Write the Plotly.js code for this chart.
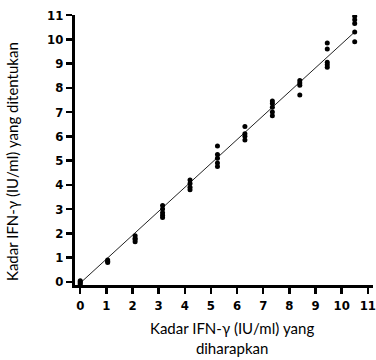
<!DOCTYPE html>
<html><head><meta charset="utf-8">
<script src="https://cdn.plot.ly/plotly-3.0.1.min.js"></script>
<style>html,body{margin:0;padding:0;background:#fff}#c{width:376px;height:360px}</style>
</head><body><div id="c"></div>
<script>
const expected = [0, 1.05, 2.1, 3.15, 4.2, 5.25, 6.3, 7.35, 8.4, 9.45, 10.5];
const measured = [
  [0, -0.05, 0.05, -0.1],
  [0.8, 0.85, 0.9],
  [1.65, 1.75, 1.8, 1.9],
  [2.65, 2.75, 2.85, 3.0, 3.15],
  [3.8, 3.9, 4.05, 4.2],
  [4.75, 4.9, 5.1, 5.25, 5.6],
  [5.85, 6.0, 6.1, 6.4],
  [6.85, 7.0, 7.2, 7.35, 7.45],
  [7.7, 8.1, 8.2, 8.3],
  [8.85, 8.95, 9.05, 9.6, 9.85],
  [9.9, 10.3, 10.65, 10.8, 10.95]
];
const fitX = [0, 10.5];
const fitY = [-0.05, 10.3];
const tickVals = [0,1,2,3,4,5,6,7,8,9,10,11];
const xTitle = 'Kadar IFN-γ (IU/ml) yang<br>diharapkan';
const yTitle = 'Kadar IFN-γ (IU/ml) yang ditentukan';

const px = [], py = [];
expected.forEach((x, i) => measured[i].forEach(y => { px.push(x); py.push(y); }));

const font = "Lato, 'DejaVu Sans', sans-serif";
const tfont = "'DejaVu Sans Condensed', 'DejaVu Sans', sans-serif";
const data = [
  {x: fitX, y: fitY, mode: 'lines', line: {color: '#222', width: 1}, hoverinfo: 'skip'},
  {x: px, y: py, mode: 'markers', marker: {color: '#000', size: 5}}
];
const axisCommon = {
  tickvals: tickVals, showgrid: false, zeroline: false,
  showline: true, linewidth: 3, linecolor: '#000',
  ticks: 'outside', ticklen: 6, tickwidth: 2.5, tickcolor: '#000',
  tickfont: {family: tfont, size: 13, weight: 'bold'}
};
const layout = {
  width: 376, height: 360,
  margin: {l: 75, r: 3, t: 15, b: 75},
  showlegend: false,
  paper_bgcolor: '#fff', plot_bgcolor: '#fff',
  font: {family: font, color: '#000', size: 11},
  xaxis: Object.assign({range: [-0.2, 11.2]}, axisCommon),
  yaxis: Object.assign({range: [-0.13, 11]}, axisCommon),
  annotations: [
    {text: xTitle, xref: 'paper', yref: 'paper', x: 0.527, y: -0.196,
     xanchor: 'center', yanchor: 'middle', showarrow: false,
     font: {family: font, size: 15, color: '#000'}},
    {text: yTitle, xref: 'paper', yref: 'paper', x: -0.211, y: 0.456, textangle: -90,
     xanchor: 'center', yanchor: 'middle', showarrow: false,
     font: {family: font, size: 15, color: '#000'}}
  ]
};
Plotly.newPlot('c', data, layout, {displayModeBar: false, staticPlot: true});
</script></body></html>
